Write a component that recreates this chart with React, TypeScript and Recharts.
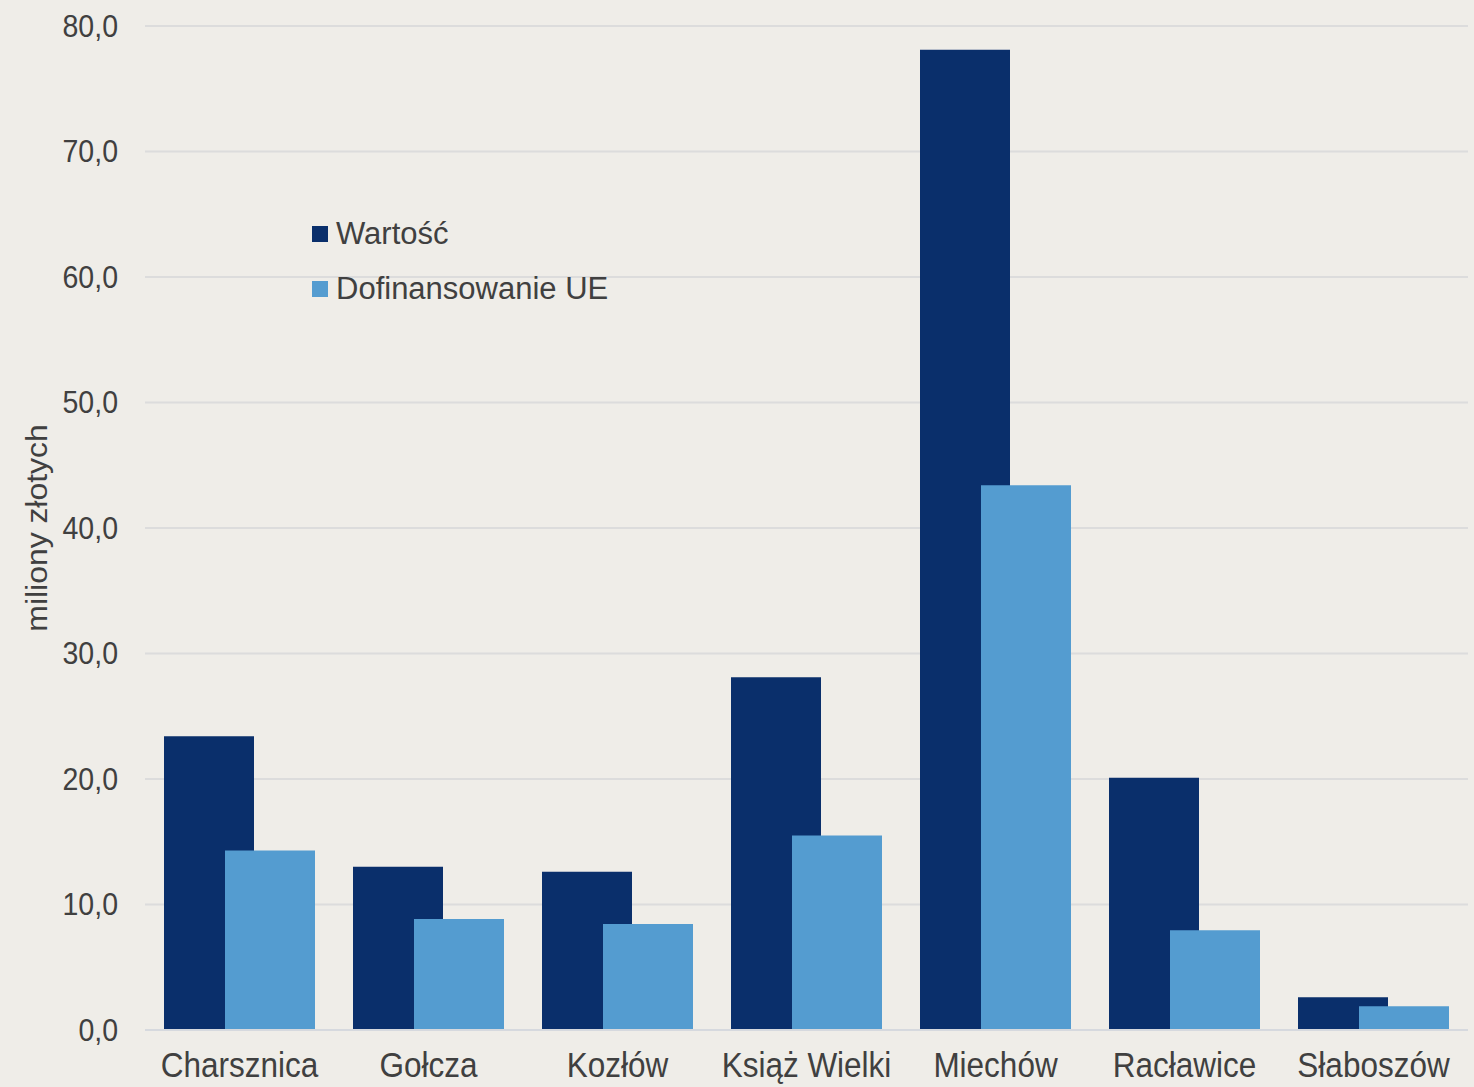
import { Bar, BarChart, CartesianGrid, Label, XAxis, YAxis } from "recharts";

const gminy = ["Charsznica", "Gołcza", "Kozłów", "Książ Wielki", "Miechów", "Racławice", "Słaboszów"];
const wartosc = [23.4, 13.0, 12.6, 28.1, 78.1, 20.1, 2.6];
const dofinansowanie = [14.3, 8.85, 8.45, 15.5, 43.4, 7.95, 1.9];
const yTicks = [0, 10, 20, 30, 40, 50, 60, 70, 80];
const seriesNames = ["Wartość", "Dofinansowanie UE"];
const seriesColors = ["#0a2f6b", "#549cd0"];

const data = gminy.map((name, i) => ({
    name,
    wartosc: wartosc[i],
    dofinansowanie: dofinansowanie[i],
}));

const textColor = "#404040";
const font = "'Liberation Sans', Arial, sans-serif";

function CategoryTick({ x, y, payload }: any) {
    return (
        <g transform={`translate(${x},${y})`}>
            <text
                transform="scale(1,1.14)"
                textAnchor="middle"
                dy="0.71em"
                fill={textColor}
                fontSize={31.5}
                fontFamily={font}
            >
                {payload.value}
            </text>
        </g>
    );
}

function ValueTick({ x, y, payload }: any) {
    return (
        <g transform={`translate(${x},${y})`}>
            <text
                transform="scale(1,1.08)"
                textAnchor="end"
                dy="0.355em"
                fill={textColor}
                fontSize={28.5}
                fontFamily={font}
            >
                {payload.value.toFixed(1).replace(".", ",")}
            </text>
        </g>
    );
}

function AxisTitle({ viewBox }: any) {
    const cx = 37;
    const cy = viewBox.y + viewBox.height / 2;
    return (
        <text
            transform={`translate(${cx},${cy}) rotate(-90) scale(1.1,1)`}
            textAnchor="middle"
            dy="0.355em"
            fill={textColor}
            fontSize={29}
            fontFamily={font}
        >
            miliony złotych
        </text>
    );
}

export default function App() {
    return (
        <div
            style={{
                position: "absolute",
                top: 0,
                left: 0,
                width: 1474,
                height: 1087,
                background: "#efede8",
            }}
        >
            <BarChart
                width={1474}
                height={1087}
                data={data}
                margin={{ top: 26, right: 6, bottom: 0, left: 0 }}
                barSize={90}
                barGap={-29}
            >
                <CartesianGrid vertical={false} stroke="#dcdcdc" strokeWidth={2} />
                <XAxis
                    dataKey="name"
                    height={57}
                    tickLine={false}
                    tickSize={0}
                    tickMargin={22}
                    axisLine={{ stroke: "#d6d9de", strokeWidth: 2 }}
                    tick={<CategoryTick />}
                    interval={0}
                />
                <YAxis
                    width={145}
                    domain={[0, 80]}
                    ticks={yTicks}
                    tickLine={false}
                    axisLine={false}
                    tickSize={0}
                    tickMargin={27}
                    tick={<ValueTick />}
                >
                    <Label content={<AxisTitle />} />
                </YAxis>
                <Bar dataKey="wartosc" name={seriesNames[0]} fill={seriesColors[0]} isAnimationActive={false} />
                <Bar dataKey="dofinansowanie" name={seriesNames[1]} fill={seriesColors[1]} isAnimationActive={false} />
            </BarChart>
            <div
                style={{
                    position: "absolute",
                    left: 312,
                    top: 206,
                    fontFamily: font,
                    fontSize: 31,
                    color: textColor,
                }}
            >
                {seriesNames.map((name, i) => (
                    <div key={name} style={{ display: "flex", alignItems: "center", height: 55 }}>
                        <div style={{ width: 16, height: 16, backgroundColor: seriesColors[i], marginRight: 8 }} />
                        <span>{name}</span>
                    </div>
                ))}
            </div>
        </div>
    );
}
